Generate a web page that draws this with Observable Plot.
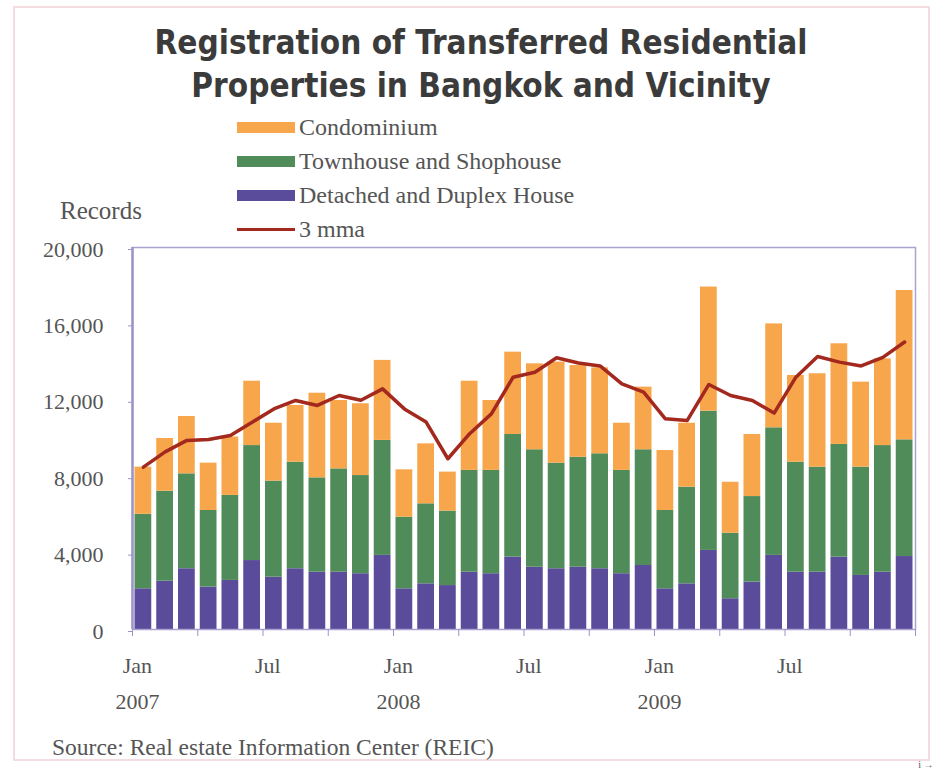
<!DOCTYPE html>
<html>
<head>
<meta charset="utf-8">
<script src="https://cdn.jsdelivr.net/npm/d3@7"></script>
<script src="https://cdn.jsdelivr.net/npm/@observablehq/plot@0.6"></script>
<style>
  html, body { margin: 0; padding: 0; background: #fff; overflow: hidden; }
  #wrap { position: relative; width: 936px; height: 770px; overflow: hidden; background: #fff; }
  #chart { position: absolute; left: 0; top: 0; }
  #outer { position: absolute; left: 13px; top: 6px; width: 917px; height: 755px; border: 2px solid #f3dde1; box-sizing: border-box; }
  .title { position: absolute; left: 0; width: 962px; text-align: center; font-family: "DejaVu Sans Condensed", "DejaVu Sans", sans-serif; font-stretch: condensed; font-weight: bold; font-size: 33px; line-height: 33px; color: #3b3b3b; white-space: nowrap; }
  .serif { font-family: "Liberation Serif", serif; color: #555; white-space: nowrap; }
  .leg { position: absolute; left: 237px; height: 24px; display: flex; align-items: center; font-size: 24px; line-height: 24px; }
  .sw { width: 58px; height: 11px; margin-right: 4px; }
  .ln { width: 58px; height: 3px; margin-right: 4px; background: #a3281e; }
</style>
</head>
<body>
<div id="wrap">
  <div id="chart"></div>
  <div id="outer"></div>
  <div class="title" style="top:26px">Registration of Transferred Residential</div>
  <div class="title" style="top:69px">Properties in Bangkok and Vicinity</div>
  <div id="legend"></div>
  <div class="serif" style="position:absolute;left:60px;top:198px;font-size:25px;line-height:25px;">Records</div>
  <div class="serif" style="position:absolute;left:52px;top:735px;font-size:23.5px;line-height:24px;">Source: Real estate Information Center (REIC)</div>
</div>
<script>
// ---- data (records per month) ----
const months = [
  "2007-01","2007-02","2007-03","2007-04","2007-05","2007-06","2007-07","2007-08","2007-09","2007-10","2007-11","2007-12",
  "2008-01","2008-02","2008-03","2008-04","2008-05","2008-06","2008-07","2008-08","2008-09","2008-10","2008-11","2008-12",
  "2009-01","2009-02","2009-03","2009-04","2009-05","2009-06","2009-07","2009-08","2009-09","2009-10","2009-11","2009-12"
];
const detached = [
  2130,2530,3180,2220,2570,3610,2740,3180,3000,3000,2920,3880,
  2130,2390,2300,3000,2920,3790,3260,3180,3260,3180,2920,3350,
  2130,2390,4140,1610,2480,3880,3000,3000,3790,2830,3000,3820
];
const townhouse = [
  3900,4710,4970,4010,4450,6020,5030,5580,4940,5410,5140,6020,
  3750,4190,3900,5330,5410,6420,6150,5530,5760,6020,5410,6060,
  4100,5060,7290,3430,4480,6680,5760,5500,5900,5670,6630,6110
];
const condo = [
  2470,2760,3000,2480,3060,3370,3030,2970,4430,3580,3760,4190,
  2480,3140,2040,4670,3660,4310,4500,5290,4800,4500,2470,3280,
  3140,3350,6500,2670,3250,5440,4540,4890,5270,4450,4540,7820
];
const mma3 = [
  8500,9300,9900,9950,10160,10850,11550,11990,11730,12250,12000,12600,
  11550,10860,8940,10250,11290,13210,13470,14230,13950,13800,12860,12430,
  11030,10940,12830,12250,11990,11330,13210,14290,14000,13800,14250,15050
];
const seriesNames = ["Detached and Duplex House", "Townhouse and Shophouse", "Condominium"];
const seriesColors = ["#5a4b9b", "#4f8c5a", "#f8a64c"];
const yTicks = [0, 4000, 8000, 12000, 16000, 20000];
const tickMonths = ["2007-01","2007-07","2008-01","2008-07","2009-01","2009-07"];
const tickMonthLabels = ["Jan","Jul","Jan","Jul","Jan","Jul"];
const tickYearLabels = ["2007","","2008","","2009",""];
const legendOrder = ["Condominium", "Townhouse and Shophouse", "Detached and Duplex House"];

// ---- build stacked rows ----
const seriesValues = [detached, townhouse, condo];
const rows = [];
months.forEach((m, i) => {
  let base = 0;
  seriesNames.forEach((s, k) => {
    const v = seriesValues[k][i];
    rows.push({i, month: m, series: s, y1: base, y2: base + v});
    base += v;
  });
});
const mmaRows = months.map((m, i) => ({i, v: mma3[i]}));
const tickIdx = tickMonths.map(m => months.indexOf(m));
const quarterBounds = d3.range(0, months.length + 1, 3).map(k => k - 0.5);
const half = 0.385;

const chart = Plot.plot({
  width: 936,
  height: 770,
  marginLeft: 132,
  marginRight: 21,
  marginTop: 247,
  marginBottom: 141,
  style: {fontFamily: "Liberation Serif, serif", background: "transparent", color: "#555"},
  x: {type: "linear", domain: [-0.5, months.length - 0.5], axis: null},
  y: {domain: [0, 20000], axis: null},
  color: {domain: seriesNames, range: seriesColors},
  marks: [
    Plot.rect(rows, {x1: d => d.i - half, x2: d => d.i + half, y1: "y1", y2: "y2", fill: "series"}),
    Plot.frame({stroke: "#aaa3cf", strokeWidth: 1.5}),
    Plot.ruleX([-0.5], {stroke: "#9c94c6", strokeWidth: 2.5}),
    Plot.line(mmaRows, {x: "i", y: "v", stroke: "#a3281e", strokeWidth: 3.5, strokeLinejoin: "round"}),
    Plot.axisY({ticks: yTicks, tickFormat: d3.format(","), tickSize: 4, tickPadding: 25, fontSize: 22, stroke: "#9c94c6", fill: "#555", dy: 2}),
    Plot.axisX({ticks: quarterBounds, tickSize: 7, tickFormat: () => "", stroke: "#9c94c6"}),
    Plot.text(tickIdx, {x: d => d, text: (d, k) => tickMonthLabels[k], frameAnchor: "bottom", dy: 43, dx: -6, fontSize: 22, fill: "#555"}),
    Plot.text(tickIdx, {x: d => d, text: (d, k) => tickYearLabels[k], frameAnchor: "bottom", dy: 79, dx: -6, fontSize: 22, fill: "#555"})
  ]
});
document.getElementById("chart").appendChild(chart);

// ---- legend ----
const legend = document.getElementById("legend");
const rowCenters = [127, 161, 195, 229];
legendOrder.forEach((name, k) => {
  const row = document.createElement("div");
  row.className = "leg serif";
  row.style.top = (rowCenters[k] - 12) + "px";
  const sw = document.createElement("div");
  sw.className = "sw";
  sw.style.background = seriesColors[seriesNames.indexOf(name)];
  row.appendChild(sw);
  row.appendChild(document.createTextNode(name));
  legend.appendChild(row);
});
const mmaRow = document.createElement("div");
mmaRow.className = "leg serif";
mmaRow.style.top = (rowCenters[3] - 12) + "px";
const ln = document.createElement("div");
ln.className = "ln";
mmaRow.appendChild(ln);
mmaRow.appendChild(document.createTextNode("3 mma"));
legend.appendChild(mmaRow);
</script>
</body>
</html>
